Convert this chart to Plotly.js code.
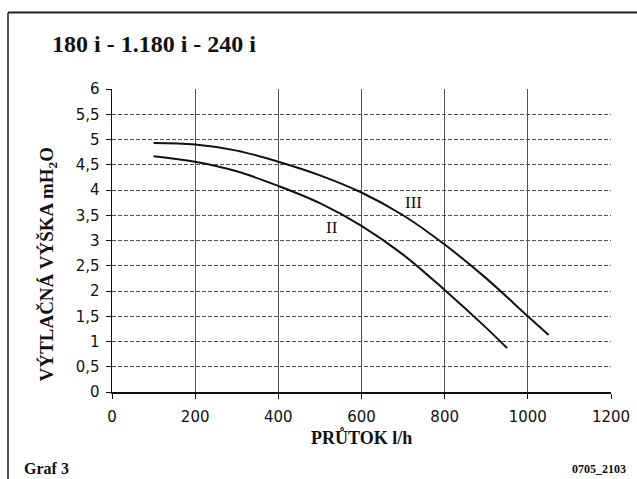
<!DOCTYPE html>
<html>
<head>
<meta charset="utf-8">
<script src="https://cdn.plot.ly/plotly-3.0.1.min.js"></script>
<style>
html,body{margin:0;padding:0;background:#fff;}
#chart{width:637px;height:479px;}
</style>
</head>
<body>
<div id="chart"></div>
<script>
// Data
const flowII   = [100, 200, 300, 400, 500, 600, 700, 800, 900, 950];
const headII   = [4.67, 4.56, 4.37, 4.08, 3.74, 3.29, 2.72, 2.02, 1.27, 0.87];
const flowIII  = [100, 200, 300, 400, 500, 600, 700, 800, 900, 1000, 1050];
const headIII  = [4.93, 4.90, 4.78, 4.56, 4.29, 3.95, 3.50, 2.92, 2.25, 1.50, 1.13];
const curveNames = ['II', 'III'];
const labelPos = {II: [529, 3.25], III: [726, 3.76]};
const xTicks = [0, 200, 400, 600, 800, 1000, 1200];
const yTicks = [0, 0.5, 1, 1.5, 2, 2.5, 3, 3.5, 4, 4.5, 5, 5.5, 6];

const W = 637, H = 479;
const M = {l: 112, r: 26, t: 88.5, b: 87.3};
const pw = W - M.l - M.r, ph = H - M.t - M.b;
const px = x => (x - M.l) / pw;
const py = y => (H - M.b - y) / ph;

const serif = '"Liberation Serif", "DejaVu Serif", serif';
const sans = '"DejaVu Sans", Verdana, sans-serif';

const traces = [
  {x: flowII, y: headII, name: curveNames[0], mode: 'lines',
   line: {color: '#111', width: 2, shape: 'spline', smoothing: 1}},
  {x: flowIII, y: headIII, name: curveNames[1], mode: 'lines',
   line: {color: '#111', width: 2, shape: 'spline', smoothing: 1}}
];

const layout = {
  width: W, height: H,
  margin: M,
  paper_bgcolor: '#fff', plot_bgcolor: '#fff',
  showlegend: false,
  separators: ', ',
  title: {
    text: '<b>180 i - 1.180 i - 240 i</b>',
    font: {family: serif, size: 24, color: '#111'},
    xref: 'container', yref: 'container',
    x: 52 / W, xanchor: 'left',
    y: 1 - 44 / H, yanchor: 'middle'
  },
  xaxis: {
    range: [0, 1200], tickvals: xTicks, ticktext: xTicks.map(String),
    showline: true, linecolor: '#111', linewidth: 1.5,
    ticks: 'outside', ticklen: 5, tickcolor: '#111',
    showgrid: true, gridcolor: '#555', gridwidth: 1,
    zeroline: false, ticklabelstandoff: 5,
    tickfont: {family: sans, size: 15, color: '#111'}
  },
  yaxis: {
    range: [0, 6], tickvals: yTicks,
    showline: true, linecolor: '#111', linewidth: 1.5,
    ticks: 'outside', ticklen: 5, tickcolor: '#111',
    showgrid: true, gridcolor: '#555', gridwidth: 1, griddash: '4px,2px',
    zeroline: false, ticklabelstandoff: 3,
    tickfont: {family: sans, size: 15, color: '#111'}
  },
  annotations: [
    {x: labelPos.II[0], y: labelPos.II[1], text: curveNames[0], showarrow: false,
     font: {family: serif, size: 17, color: '#111'}},
    {x: labelPos.III[0], y: labelPos.III[1], text: curveNames[1], showarrow: false,
     font: {family: serif, size: 17, color: '#111'}},
    {xref: 'paper', yref: 'paper', x: px(361.5), y: py(437), xanchor: 'center', yanchor: 'middle',
     text: '<b>PRŮTOK l/h</b>', showarrow: false, font: {family: serif, size: 18, color: '#111'}},
    {xref: 'paper', yref: 'paper', x: px(48), y: py(264), xanchor: 'center', yanchor: 'middle',
     textangle: -90,
     text: '<b>VÝTLAČNÁ VÝŠKA mH<sub>2</sub>O</b>', showarrow: false, font: {family: serif, size: 19, color: '#111'}},
    {xref: 'paper', yref: 'paper', x: px(22), y: py(468), xanchor: 'left', yanchor: 'middle',
     text: '<b>Graf 3</b>', showarrow: false, font: {family: serif, size: 16, color: '#111'}},
    {xref: 'paper', yref: 'paper', x: px(628), y: py(469), xanchor: 'right', yanchor: 'middle',
     text: '<b>0705_2103</b>', showarrow: false, font: {family: serif, size: 12, color: '#111'}}
  ],
  shapes: [
    {type: 'line', xref: 'paper', yref: 'paper', x0: px(8), x1: px(645), y0: py(12), y1: py(12),
     line: {color: '#222', width: 2}},
    {type: 'line', xref: 'paper', yref: 'paper', x0: px(8), x1: px(8), y0: py(12), y1: py(490),
     line: {color: '#222', width: 1.5}}
  ]
};

Plotly.newPlot('chart', traces, layout, {displayModeBar: false, staticPlot: true});
</script>
</body>
</html>
